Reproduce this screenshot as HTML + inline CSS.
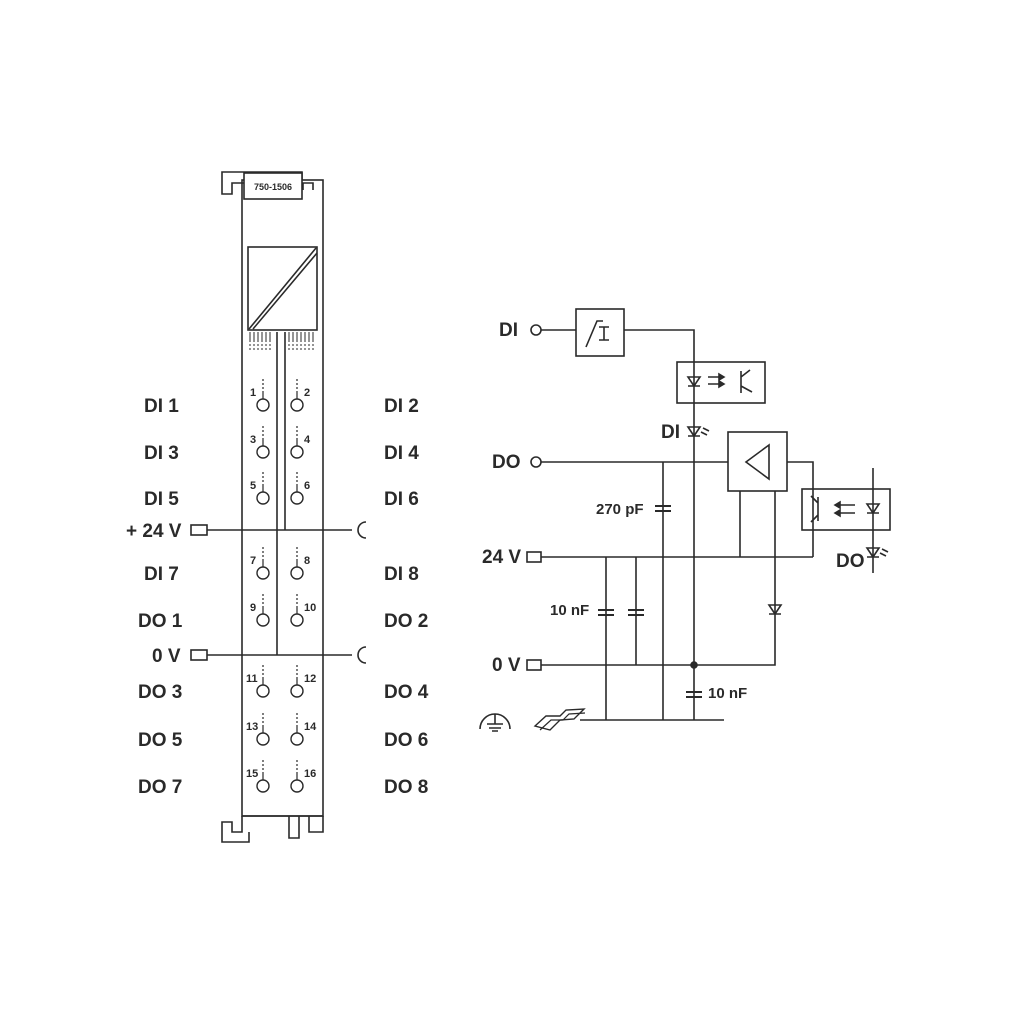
<!DOCTYPE html>
<html><head><style>html,body{margin:0;padding:0;background:#fff}svg{display:block}</style></head>
<body>
<svg width="1010" height="1010" viewBox="0 0 1010 1010" xmlns="http://www.w3.org/2000/svg" font-family="Liberation Sans, sans-serif" font-weight="bold" fill="none" stroke="#2a2a2a" stroke-width="1.6">
<rect x="0" y="0" width="1010" height="1010" fill="#fff" stroke="none"/>
<rect x="242" y="180" width="81" height="636"/>
<path d="M244 183 H232 V194 H222 V172 H302 V180"/>
<rect x="244" y="173" width="58" height="26" fill="#fff"/>
<text x="273" y="190" font-size="9" fill="#2a2a2a" stroke="none" text-anchor="middle">750-1506</text>
<path d="M303 190 V183 H313 V190"/>
<rect x="248" y="247" width="69" height="83"/>
<line x1="249" y1="329" x2="316" y2="248"/><line x1="253" y1="329" x2="317" y2="253"/>
<g stroke-width="1">
<path d="M250 332V342M254 332V342M258 332V342M262 332V342M266 332V342M270 332V342M289 332V342M293 332V342M297 332V342M301 332V342M305 332V342M309 332V342M313 332V342" />
<path d="M250 344V352M254 344V352M258 344V352M262 344V352M266 344V352M270 344V352M289 344V352M293 344V352M297 344V352M301 344V352M305 344V352M309 344V352M313 344V352" stroke-dasharray="2 2"/>
</g>
<line x1="277" y1="332" x2="277" y2="655"/>
<line x1="285" y1="332" x2="285" y2="530"/>
<path d="M242 816 V832 H232 V822 H222 V842 H249 V832"/>
<path d="M242 816 H323"/>
<path d="M289 816 V838 H299 V816 M309 816 V832 H323 V816"/>
<g stroke-width="1.4">
<circle cx="263" cy="405" r="6"/><circle cx="297" cy="405" r="6"/>
<circle cx="263" cy="452" r="6"/><circle cx="297" cy="452" r="6"/>
<circle cx="263" cy="498" r="6"/><circle cx="297" cy="498" r="6"/>
<circle cx="263" cy="573" r="6"/><circle cx="297" cy="573" r="6"/>
<circle cx="263" cy="620" r="6"/><circle cx="297" cy="620" r="6"/>
<circle cx="263" cy="691" r="6"/><circle cx="297" cy="691" r="6"/>
<circle cx="263" cy="739" r="6"/><circle cx="297" cy="739" r="6"/>
<circle cx="263" cy="786" r="6"/><circle cx="297" cy="786" r="6"/>
</g>
<g stroke-width="1.2">
<path d="M263 399V391M297 399V391M263 446V438M297 446V438M263 492V484M297 492V484M263 567V559M297 567V559M263 614V606M297 614V606M263 685V677M297 685V677M263 733V725M297 733V725M263 780V772M297 780V772"/>
<path d="M263 389V378M297 389V378M263 436V425M297 436V425M263 482V471M297 482V471M263 557V546M297 557V546M263 604V593M297 604V593M263 675V664M297 675V664M263 723V712M297 723V712M263 770V759M297 770V759" stroke-dasharray="2 2"/>
</g>
<g fill="#2a2a2a" stroke="none" font-size="11">
<text x="250" y="396">1</text><text x="304" y="396">2</text>
<text x="250" y="443">3</text><text x="304" y="443">4</text>
<text x="250" y="489">5</text><text x="304" y="489">6</text>
<text x="250" y="564">7</text><text x="304" y="564">8</text>
<text x="250" y="611">9</text><text x="304" y="611">10</text>
<text x="246" y="682">11</text><text x="304" y="682">12</text>
<text x="246" y="730">13</text><text x="304" y="730">14</text>
<text x="246" y="777">15</text><text x="304" y="777">16</text>
</g>
<line x1="207" y1="530" x2="352" y2="530"/>
<rect x="191" y="525" width="16" height="10"/>
<path d="M366 522 A8 8 0 0 0 366 538"/>
<line x1="207" y1="655" x2="352" y2="655"/>
<rect x="191" y="650" width="16" height="10"/>
<path d="M366 647 A8 8 0 0 0 366 663"/>
<g fill="#2a2a2a" stroke="none" font-size="19">
<text x="144" y="412">DI 1</text><text x="144" y="459">DI 3</text><text x="144" y="505">DI 5</text>
<text x="126" y="537">+ 24 V</text>
<text x="144" y="580">DI 7</text><text x="138" y="627">DO 1</text>
<text x="152" y="662">0 V</text>
<text x="138" y="698">DO 3</text><text x="138" y="746">DO 5</text><text x="138" y="793">DO 7</text>
<text x="384" y="412">DI 2</text><text x="384" y="459">DI 4</text><text x="384" y="505">DI 6</text>
<text x="384" y="580">DI 8</text><text x="384" y="627">DO 2</text>
<text x="384" y="698">DO 4</text><text x="384" y="746">DO 6</text><text x="384" y="793">DO 8</text>
<text x="499" y="336">DI</text>
<text x="492" y="468">DO</text>
<text x="661" y="438">DI</text>
<text x="482" y="563">24 V</text>
<text x="492" y="671">0 V</text>
<text x="836" y="567">DO</text>
</g>
<g fill="#2a2a2a" stroke="none" font-size="15">
<text x="596" y="514">270 pF</text>
<text x="550" y="615">10 nF</text>
<text x="708" y="698">10 nF</text>
</g>
<circle cx="536" cy="330" r="5"/>
<line x1="541" y1="330" x2="576" y2="330"/>
<rect x="576" y="309" width="48" height="47"/>
<path d="M586 347 L597 321 H603 M599 327 H609 M599 340 H609 M604 327 V340"/>
<path d="M624 330 H694 V720"/>
<rect x="677" y="362" width="88" height="41"/>
<path d="M688 377 H700 L694 386 Z M688 386 H700"/>
<path d="M708 377 H724 M708 384 H724" /><path d="M724 377 l-5 -3 v6 z M724 384 l-5 -3 v6z" fill="#2a2a2a"/>
<path d="M741 371 V393 M741 377 L750 370 M741 386 L752 392"/>
<path d="M688 427 H700 L694 436 Z M688 436 H700 M701 432 l6 3 M703 428 l6 3"/>
<circle cx="536" cy="462" r="5"/>
<line x1="541" y1="462" x2="728" y2="462"/>
<rect x="728" y="432" width="59" height="59"/>
<path d="M769 445 L746 462 L769 479 Z"/>
<path d="M787 462 H813 V557"/>
<rect x="802" y="489" width="88" height="41"/>
<path d="M818 497 V521 M818 503 L811 496 M818 515 L811 522"/>
<path d="M835 505 H855 M835 513 H855"/><path d="M835 505 l5 -3 v6z M835 513 l5 -3 v6z" fill="#2a2a2a"/>
<line x1="873" y1="468" x2="873" y2="573"/>
<path d="M867 504 H879 L873 513 Z M867 513 H879"/>
<path d="M867 548 H879 L873 557 Z M867 557 H879 M880 553 l6 3 M882 549 l6 3"/>
<line x1="663" y1="462" x2="663" y2="720"/>
<path d="M655 506 H671 M655 511 H671" stroke-width="2"/>
<rect x="527" y="552" width="14" height="10"/>
<line x1="541" y1="557" x2="813" y2="557"/>
<line x1="740" y1="491" x2="740" y2="557"/>
<path d="M775 491 V665 H541"/>
<path d="M769 605 H781 L775 614 Z M769 614 H781"/>
<rect x="527" y="660" width="14" height="10"/>
<line x1="606" y1="557" x2="606" y2="720"/>
<line x1="636" y1="557" x2="636" y2="665"/>
<path d="M598 610 H614 M598 615 H614 M628 610 H644 M628 615 H644 M686 692 H702 M686 697 H702" stroke-width="2"/>
<circle cx="694" cy="665" r="3" fill="#2a2a2a"/>
<line x1="580" y1="720" x2="724" y2="720"/>
<path d="M480 729 A15 15 0 0 1 510 729 M495 714 V724 M487 724 H503 M489 728 H501 M492 731 H498"/>
<path d="M535 726 L546 716 L560 716 L566 710 L584 709 L574 719 L560 720 L550 730 Z" stroke-width="1.4"/>
<path d="M540 730 L551 720 L563 720 L569 714 L585 713" stroke-width="1.2"/>
</svg>
</body></html>
